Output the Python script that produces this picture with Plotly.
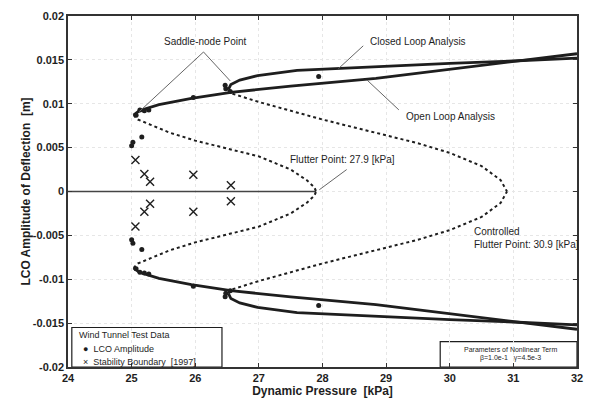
import plotly.graph_objects as go

# Open-loop LCO amplitude: stable branch (solid) and unstable branch (dotted)
open_stable_p = [25.03, 25.12, 25.43, 25.94, 26.56, 27.5, 28.84, 30.0, 31.07, 32.0]
open_stable_a = [0.0087, 0.0092, 0.0099, 0.0106, 0.0113, 0.0120, 0.0129, 0.0139, 0.0149, 0.0157]
open_unstable_p = [25.03, 25.1, 25.3, 25.6, 26.0, 26.5, 27.0, 27.5, 27.75, 27.87, 27.9]
open_unstable_a = [0.0087, 0.0082, 0.0076, 0.0067, 0.0058, 0.0049, 0.0040, 0.0025, 0.0013, 0.0005, 0.0]

# Closed-loop LCO amplitude
closed_stable_p = [26.52, 26.56, 26.7, 26.98, 27.6, 28.84, 30.0, 31.07, 32.0]
closed_stable_a = [0.0116, 0.0122, 0.0127, 0.0132, 0.0138, 0.01425, 0.0146, 0.0149, 0.0152]
closed_unstable_p = [26.52, 26.56, 27.0, 27.5, 28.0, 28.5, 29.0, 29.5, 30.0, 30.5, 30.8, 30.9]
closed_unstable_a = [0.0116, 0.0112, 0.0102, 0.0092, 0.0082, 0.0073, 0.0064, 0.0055, 0.0044, 0.0029, 0.0013, 0.0]

# Wind tunnel test data (1997)
lco_p = [25.0, 25.02, 25.16, 25.07, 25.13, 25.2, 25.27, 25.97, 26.47, 26.48, 26.55, 27.94,
         25.0, 25.02, 25.16, 25.07, 25.13, 25.2, 25.27, 25.97, 26.47, 26.48, 26.55, 27.94]
lco_a = [0.0052, 0.0056, 0.0062, 0.0087, 0.0093, 0.0092, 0.0093, 0.0107, 0.0121, 0.0117, 0.0114, 0.0131,
         -0.0055, -0.0059, -0.0066, -0.0088, -0.0092, -0.0093, -0.0094, -0.0108, -0.0120, -0.0116, -0.0113, -0.0130]
stab_p = [25.06, 25.20, 25.29, 25.97, 26.56, 26.56, 25.29, 25.20, 25.97, 25.06]
stab_a = [0.0036, 0.0020, 0.0011, 0.0019, 0.0007, -0.0011, -0.0014, -0.0023, -0.0023, -0.0040]

flutter_open = 27.9
flutter_closed = 30.9

x_ticks = [24, 25, 26, 27, 28, 29, 30, 31, 32]
y_ticks = [0.02, 0.015, 0.01, 0.005, 0, -0.005, -0.01, -0.015, -0.02]
y_tick_text = ["0.02", "0.015", "0.01", "0.005", "0", "-0.005", "-0.01", "-0.015", "-0.02"]

INK = "#1e1e1e"
FONT = "Liberation Sans, Arial, sans-serif"

fig = go.Figure()


def branch(p, a, dotted):
    line = dict(color=INK, width=2.0, dash="dot") if dotted else dict(color=INK, width=2.8)
    for sign in (1, -1):
        fig.add_trace(go.Scatter(x=p, y=[sign * v for v in a], mode="lines",
                                 line=line, showlegend=False, hoverinfo="skip"))


# zero-amplitude (stable) equilibrium up to the open-loop flutter point
fig.add_trace(go.Scatter(x=[24, flutter_open], y=[0, 0], mode="lines",
                         line=dict(color="#444", width=1.5), showlegend=False))

branch(open_unstable_p, open_unstable_a, True)
branch(closed_unstable_p, closed_unstable_a, True)
branch(open_stable_p, open_stable_a, False)
branch(closed_stable_p, closed_stable_a, False)

fig.add_trace(go.Scatter(x=lco_p, y=lco_a, mode="markers", name="LCO Amplitude",
                         marker=dict(symbol="circle", size=5, color=INK), showlegend=False))
fig.add_trace(go.Scatter(x=stab_p, y=stab_a, mode="markers", name="Stability Boundary",
                         marker=dict(symbol="x-thin", size=8, line=dict(color=INK, width=1.4)),
                         showlegend=False))

# leader lines for the annotations
leaders = [
    ([26.13, 25.12], [0.0159, 0.0091]),
    ([26.13, 26.55], [0.0159, 0.0126]),
    ([28.64, 28.25], [0.0166, 0.0140]),
    ([29.2, 28.7], [0.0093, 0.0127]),
    ([28.38, 27.95], [0.0025, 0.0002]),
]
for lx, ly in leaders:
    fig.add_trace(go.Scatter(x=lx, y=ly, mode="lines", line=dict(color="#666", width=1),
                             showlegend=False, hoverinfo="skip"))

annotations = [
    dict(x=26.16, y=0.0171, text="Saddle-node Point", xanchor="center"),
    dict(x=28.72, y=0.0171, text="Closed Loop Analysis", xanchor="left"),
    dict(x=29.28, y=0.0086, text="Open Loop Analysis", xanchor="left"),
    dict(x=27.45, y=0.0037, text="Flutter Point: 27.9 [kPa]", xanchor="left"),
    dict(x=30.35, y=-0.0053, text="Controlled<br>Flutter Point: 30.9 [kPa]", xanchor="left", align="left"),
    dict(x=24.14, y=-0.0164, text="Wind Tunnel Test Data", xanchor="left", size=9),
    dict(x=24.2, y=-0.0180, text="●  LCO Amplitude", xanchor="left", size=9),
    dict(x=24.2, y=-0.0194, text="×  Stability Boundary  [1997]", xanchor="left", size=9),
    dict(x=30.95, y=-0.0180, text="Parameters of Nonlinear Term", xanchor="center", size=7),
    dict(x=30.95, y=-0.0190, text="β=1.0e-1   γ=4.5e-3", xanchor="center", size=7),
]
fig.update_layout(annotations=[
    dict(x=a["x"], y=a["y"], xref="x", yref="y", text=a["text"], showarrow=False,
         xanchor=a["xanchor"], yanchor="middle", align=a.get("align", "center"),
         font=dict(family=FONT, size=a.get("size", 10), color=INK))
    for a in annotations
])

fig.update_layout(shapes=[
    dict(type="rect", xref="x", yref="y", x0=24.06, x1=26.42, y0=-0.02, y1=-0.0155,
         line=dict(color=INK, width=1.2), fillcolor="white", layer="below"),
    dict(type="rect", xref="x", yref="y", x0=29.85, x1=32, y0=-0.02, y1=-0.0171,
         line=dict(color=INK, width=1.2), fillcolor="white", layer="below"),
])

axis_common = dict(showline=True, linecolor="#333", linewidth=1.5, mirror="ticks",
                   ticks="inside", ticklen=4, tickcolor="#333",
                   showgrid=True, gridcolor="#e6e6e6", griddash="dot", gridwidth=1,
                   zeroline=False,
                   tickfont=dict(family=FONT, size=11, color=INK, weight="bold"))

fig.update_xaxes(range=[24, 32], tickvals=x_ticks, **axis_common,
                 title=dict(text="<b>Dynamic Pressure  [kPa]</b>",
                            font=dict(family=FONT, size=12, color=INK), standoff=2))
fig.update_yaxes(range=[-0.02, 0.02], tickvals=y_ticks, ticktext=y_tick_text, **axis_common,
                 title=dict(text="<b>LCO Amplitude of Deflection  [m]</b>",
                            font=dict(family=FONT, size=12, color=INK), standoff=0))

fig.update_layout(width=593, height=411, margin=dict(l=68, r=10, t=12, b=44),
                  paper_bgcolor="white", plot_bgcolor="white", showlegend=False)

fig.write_html("out.html")
